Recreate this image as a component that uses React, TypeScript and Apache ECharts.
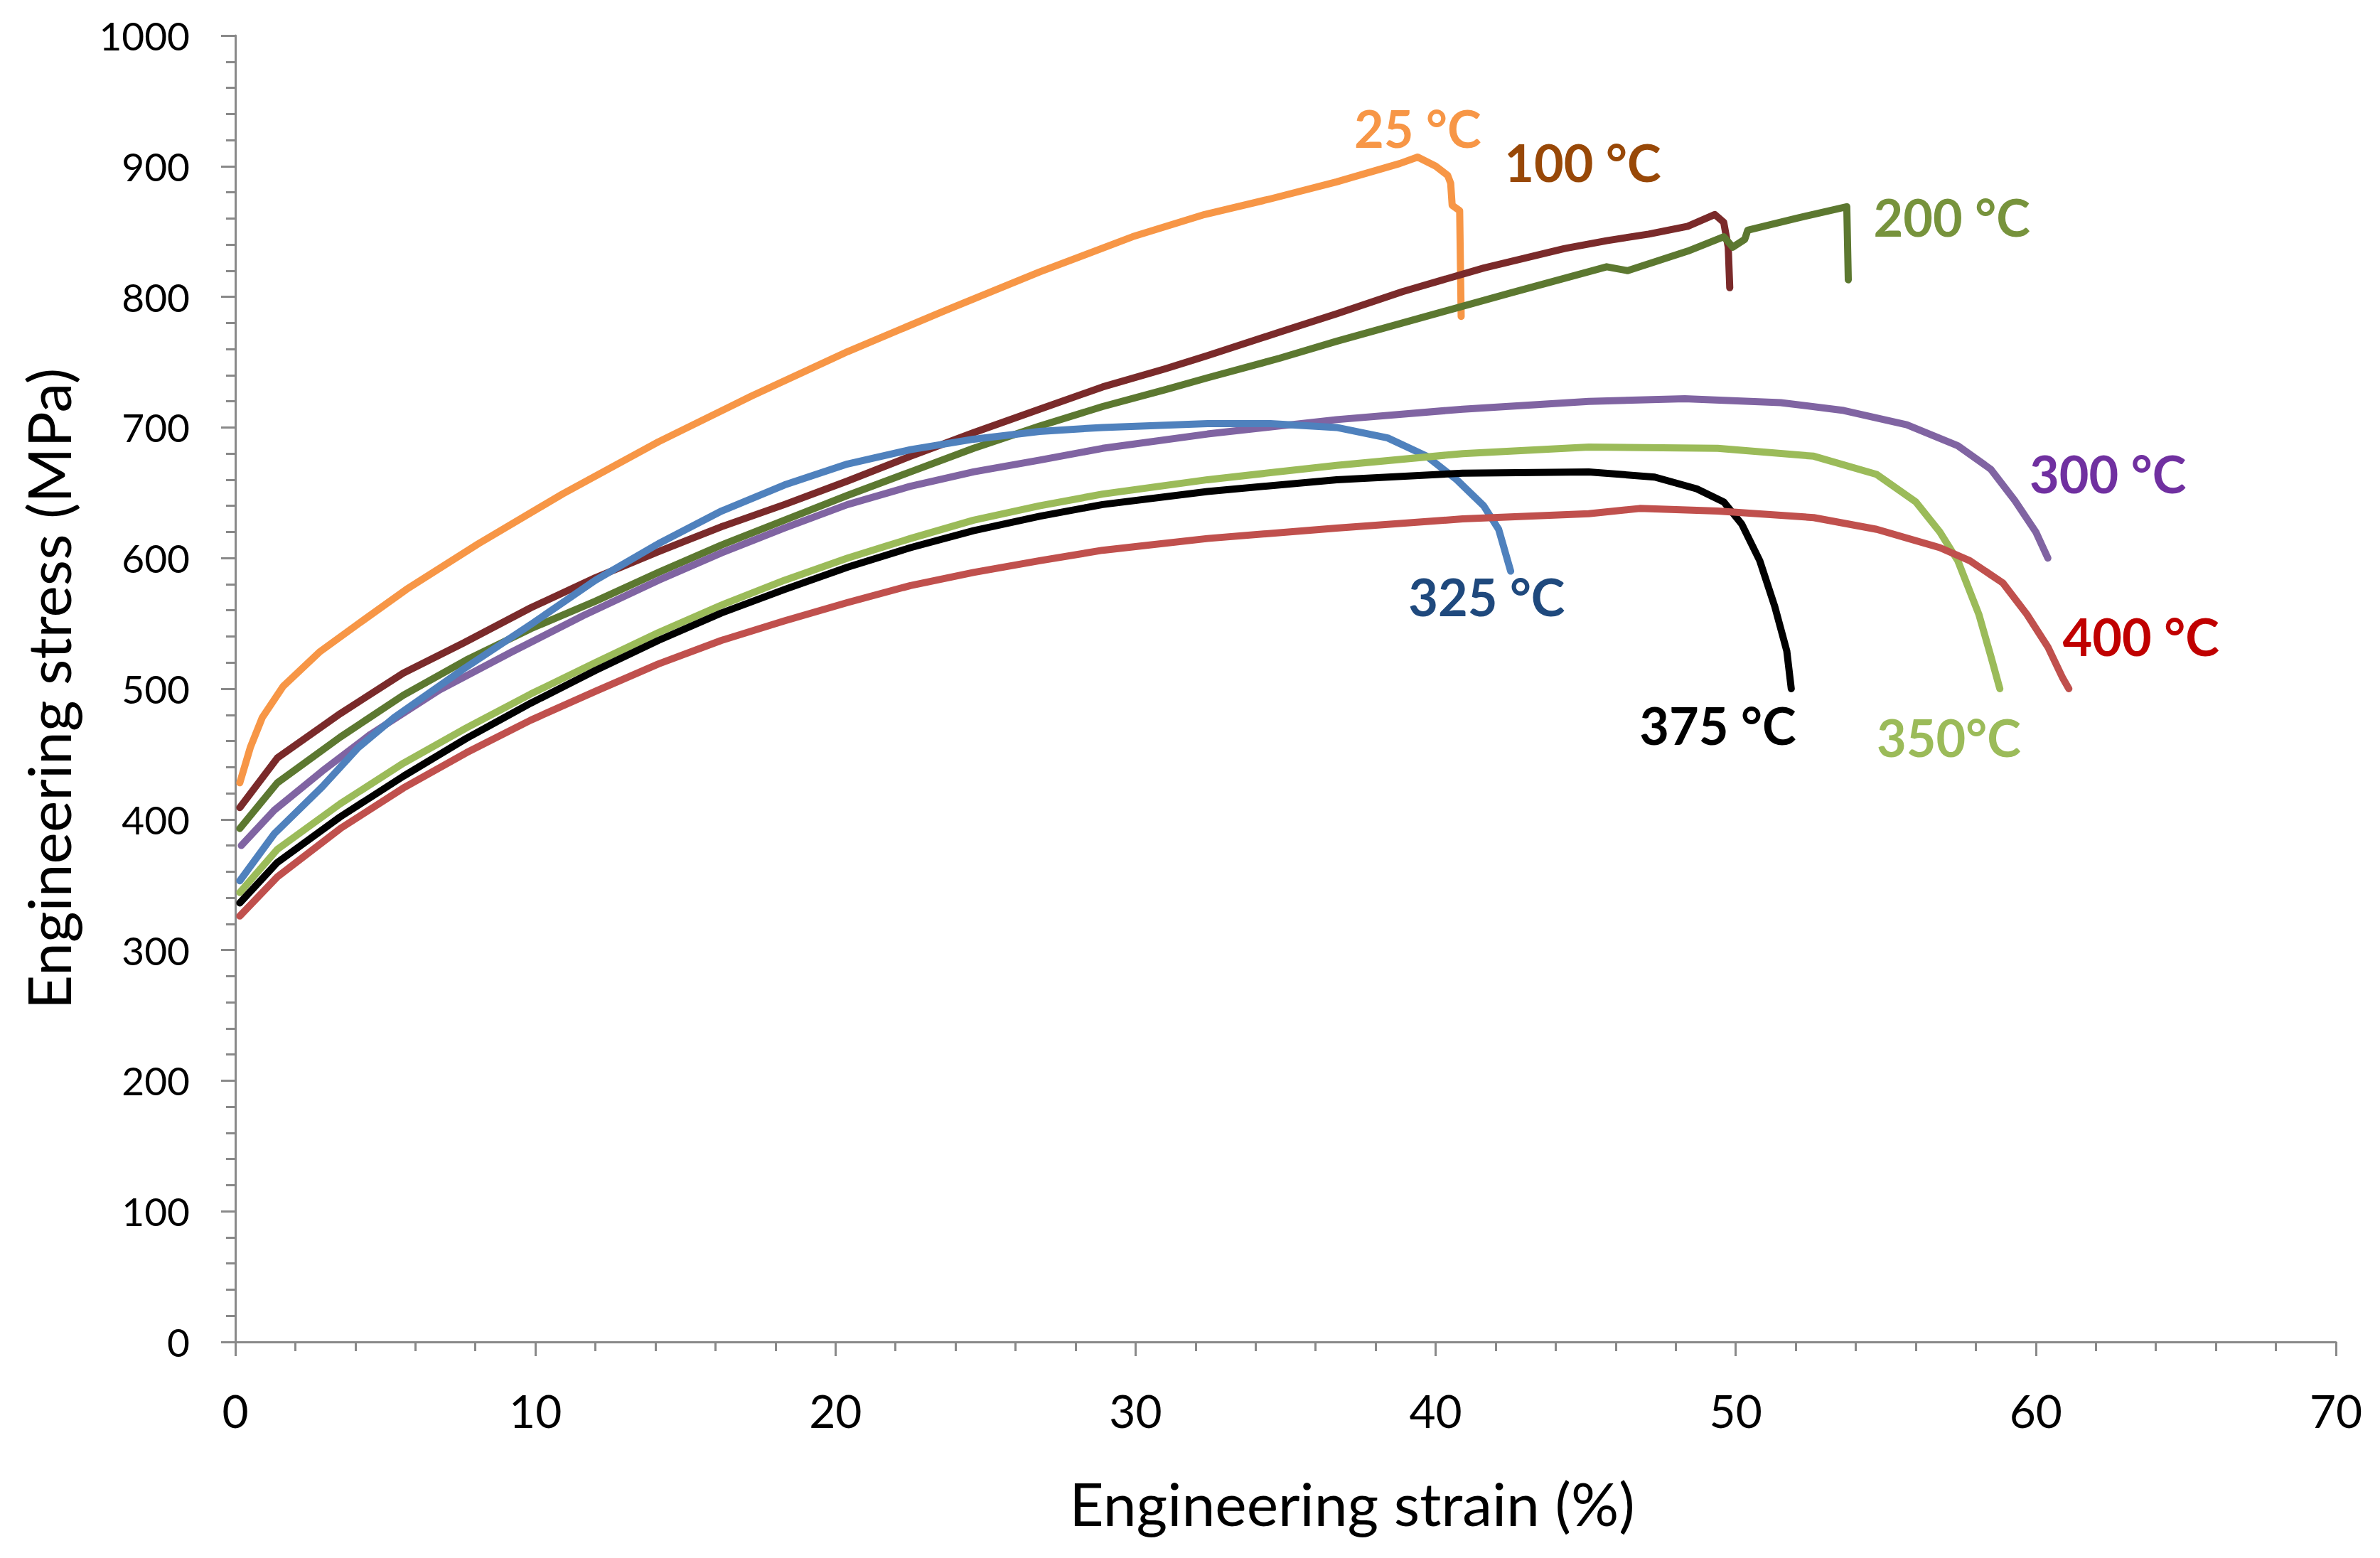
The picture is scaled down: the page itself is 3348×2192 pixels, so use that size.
import React, { useEffect, useRef } from "react";
import * as echarts from "echarts";

// ---- data: [strain %, stress MPa] ----
const s25: number[][] = [
  [0.15, 428], [0.5, 455], [0.9, 478], [1.6, 502], [2.8, 528], [4.3, 553], [5.7, 576], [8.1, 611],
  [10.9, 649], [14.1, 689], [17.2, 724], [20.4, 758], [23.6, 789], [26.8, 819], [29.9, 846], [32.3, 863],
  [34.5, 875], [36.7, 888], [38.8, 902], [39.4, 907], [40.0, 900], [40.4, 893], [40.5, 887], [40.55, 870],
  [40.8, 866], [40.85, 785],
];
const s100: number[][] = [
  [0.15, 409], [1.4, 447], [3.5, 481], [5.6, 512], [7.6, 535], [9.85, 562], [12.0, 585], [14.1, 605],
  [16.2, 624], [18.3, 641], [20.4, 659], [22.5, 678], [24.6, 696], [26.8, 714], [28.9, 731], [31.0, 745],
  [32.4, 755], [34.8, 773], [36.7, 787], [38.9, 804], [41.6, 822], [44.3, 837], [45.7, 843], [47.1, 848],
  [48.4, 854], [49.3, 863], [49.6, 857], [49.75, 838], [49.8, 807],
];
const s200: number[][] = [
  [0.15, 393], [1.4, 428], [3.5, 463], [5.6, 495], [7.7, 522], [9.85, 546], [12.0, 567], [14.1, 589],
  [16.2, 610], [18.3, 629], [20.4, 648], [22.5, 666], [24.6, 684], [26.8, 701], [28.9, 716], [31.0, 729],
  [32.4, 738], [34.8, 753], [36.7, 766], [40.3, 789], [42.5, 803], [45.7, 823], [46.4, 820], [48.4, 835],
  [49.6, 846], [49.9, 838], [50.3, 844], [50.4, 851], [52.0, 860], [53.7, 869], [53.75, 813],
];
const s300: number[][] = [
  [0.2, 380], [1.3, 407], [2.9, 437], [4.5, 465], [6.8, 499], [9.2, 528], [11.6, 556], [14.1, 583],
  [16.2, 604], [18.3, 623], [20.4, 641], [22.5, 655], [24.6, 666], [26.8, 675], [28.9, 684], [32.4, 695],
  [36.7, 706], [40.9, 714], [45.1, 720], [48.3, 722], [51.5, 719], [53.6, 713], [55.7, 702], [57.4, 686],
  [58.5, 668], [59.3, 644], [60.0, 620], [60.4, 600],
];
const s325: number[][] = [
  [0.15, 353], [1.3, 389], [2.9, 425], [4.1, 455], [5.3, 478], [7.6, 515], [9.9, 550], [12.0, 583],
  [14.1, 611], [16.2, 636], [18.3, 656], [20.4, 672], [22.5, 683], [24.6, 691], [26.8, 697], [28.9, 700],
  [32.4, 703], [34.5, 703], [36.7, 700], [38.4, 692], [39.7, 678], [40.7, 660], [41.6, 640], [42.1, 622],
  [42.5, 590],
];
const s350: number[][] = [
  [0.15, 344], [1.4, 377], [3.5, 412], [5.6, 443], [7.7, 470], [9.85, 496], [12.0, 520], [14.1, 543],
  [16.2, 564], [18.3, 583], [20.4, 600], [22.5, 615], [24.6, 629], [26.8, 640], [28.9, 649], [32.4, 660],
  [36.7, 671], [40.9, 680], [45.1, 685], [49.4, 684], [52.6, 678], [54.7, 664], [56.0, 643], [56.8, 620],
  [57.4, 598], [58.1, 557], [58.5, 525], [58.8, 500],
];
const s375: number[][] = [
  [0.15, 336], [1.4, 367], [3.5, 402], [5.6, 433], [7.7, 462], [9.85, 489], [12.0, 514], [14.1, 537],
  [16.2, 558], [18.3, 576], [20.4, 593], [22.5, 608], [24.6, 621], [26.8, 632], [28.9, 641], [32.4, 651],
  [36.7, 660], [40.9, 665], [45.1, 666], [47.3, 662], [48.7, 653], [49.6, 643], [50.2, 626], [50.8, 598],
  [51.3, 563], [51.7, 529], [51.85, 500],
];
const s400: number[][] = [
  [0.15, 326], [1.4, 356], [3.5, 393], [5.6, 424], [7.7, 451], [9.85, 476], [12.0, 498], [14.1, 519],
  [16.2, 537], [18.3, 552], [20.4, 566], [22.5, 579], [24.6, 589], [26.8, 598], [28.9, 606], [32.4, 615],
  [36.7, 623], [40.9, 630], [45.1, 634], [46.8, 638], [49.4, 636], [52.6, 631], [54.7, 622], [56.8, 608],
  [57.8, 598], [58.9, 581], [59.7, 557], [60.4, 532], [60.9, 508], [61.1, 500],
];

const seriesNames = ["25 °C", "100 °C", "200 °C", "300 °C", "325 °C", "350°C", "375 °C", "400 °C"];
const seriesData = [s25, s100, s200, s300, s325, s350, s375, s400];
const lineColors = ["#F79646", "#7A2A2A", "#5C7830", "#8064A2", "#4F81BD", "#9BBB59", "#000000", "#C0504D"];
const labelColors = ["#F79646", "#984807", "#77933C", "#7030A0", "#1F497D", "#9BBB59", "#000000", "#C00000"];
// label centres in data coordinates [strain, stress]
const labelAt: number[][] = [
  [39.4, 929], [44.9, 903], [57.2, 861], [62.4, 665], [41.7, 571], [57.1, 463], [49.4, 472], [63.5, 540],
];

const xTitle = "Engineering strain (%)";
const yTitle = "Engineering stress (MPa)";

const FONT = "Lato, 'Open Sans', sans-serif";
const AXIS_COLOR = "#898989";

export default function App() {
  const ref = useRef<HTMLDivElement>(null);
  useEffect(() => {
    document.body.style.margin = "0";
    if (!ref.current) return;
    const chart = echarts.init(ref.current, undefined, { renderer: "svg" });
    const axisCommon = {
      type: "value" as const,
      nameLocation: "middle" as const,
      nameMoveOverlap: false,
      axisLine: { show: true, onZero: false, lineStyle: { color: AXIS_COLOR, width: 3 } },
      axisTick: { show: true, inside: false, length: 20, lineStyle: { color: AXIS_COLOR, width: 3 } },
      minorTick: { show: true, splitNumber: 5, length: 13, lineStyle: { color: AXIS_COLOR, width: 3 } },
      splitLine: { show: false },
    };
    chart.setOption({
      animation: false,
      backgroundColor: "#fff",
      grid: { left: 331, right: 62, top: 50, bottom: 304, containLabel: false },
      xAxis: {
        ...axisCommon,
        min: 0,
        max: 70,
        interval: 10,
        name: xTitle,
        nameGap: 184,
        nameTextStyle: { fontFamily: FONT, fontSize: 84, color: "#000", padding: [0, 0, 0, 187] },
        axisLabel: {
          fontFamily: FONT,
          fontSize: 64,
          color: "#000",
          margin: 64,
          formatter: (v: number) => String(v),
        },
      },
      yAxis: {
        ...axisCommon,
        min: 0,
        max: 1000,
        interval: 100,
        name: yTitle,
        nameGap: 222,
        nameTextStyle: { fontFamily: FONT, fontSize: 84, color: "#000" },
        axisLabel: {
          fontFamily: FONT,
          fontSize: 55,
          color: "#000",
          margin: 64,
          formatter: (v: number) => String(v),
        },
      },
      series: seriesData.map((d, i) => ({
        type: "line",
        name: seriesNames[i],
        data: d,
        showSymbol: false,
        symbol: "none",
        smooth: false,
        lineStyle: { color: lineColors[i], width: 10, join: "round", cap: "round" },
        itemStyle: { color: lineColors[i] },
        z: 2 + i,
        markPoint: {
          silent: true,
          symbol: "rect",
          symbolSize: 0,
          itemStyle: { color: "transparent" },
          label: {
            show: true,
            position: "inside",
            formatter: seriesNames[i],
            color: labelColors[i],
            fontFamily: FONT,
            fontSize: 72,
            fontWeight: "bold",
          },
          data: [{ coord: labelAt[i] }],
        },
      })),
    });
    return () => chart.dispose();
  }, []);
  return (
    <div
      ref={ref}
      style={{ position: "absolute", left: 0, top: 0, width: 3348, height: 2192, background: "#fff" }}
    />
  );
}
